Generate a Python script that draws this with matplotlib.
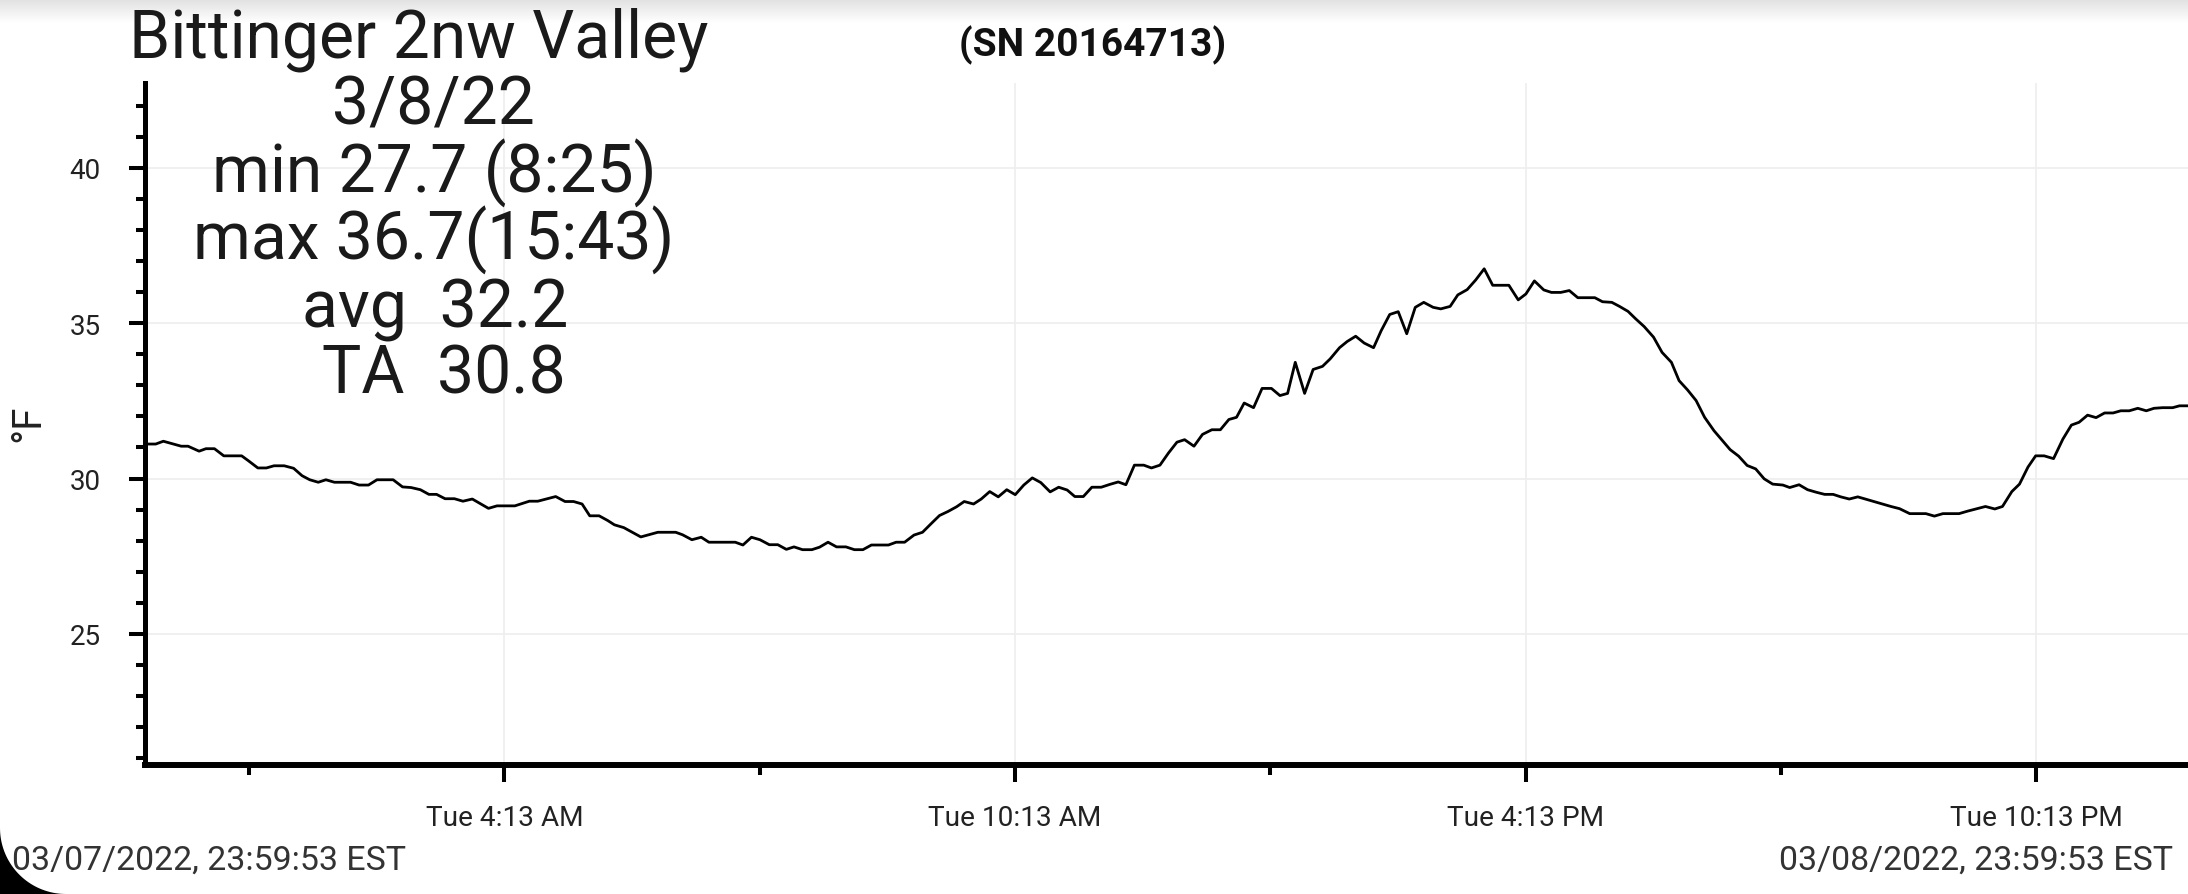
import numpy as np
import matplotlib
matplotlib.use("Agg")
import matplotlib.pyplot as plt
from matplotlib.patches import Polygon

plt.rcParams["font.family"] = ["Roboto", "DejaVu Sans"]

# hours after midnight, 3/8/22
hours = [0.00, 0.12, 0.21, 0.42, 0.50, 0.63, 0.71, 0.81, 0.92, 1.13, 1.21, 1.32, 1.42, 1.51,
         1.63, 1.74, 1.84, 1.93, 2.03, 2.12, 2.22, 2.41, 2.51, 2.62, 2.72, 2.91, 3.02, 3.12,
         3.23, 3.33, 3.42, 3.52, 3.63, 3.73, 3.84, 4.03, 4.13, 4.34, 4.51, 4.61, 4.82, 4.93,
         5.03, 5.13, 5.22, 5.33, 5.43, 5.51, 5.62, 5.72, 5.82, 6.02, 6.23, 6.31, 6.42, 6.53,
         6.62, 6.93, 7.02, 7.12, 7.22, 7.33, 7.43, 7.53, 7.62, 7.72, 7.83, 7.92, 8.02, 8.12,
         8.23, 8.33, 8.43, 8.53, 8.73, 8.82, 8.92, 9.03, 9.13, 9.24, 9.33, 9.43, 9.53, 9.62,
         9.73, 9.82, 9.92, 10.02, 10.12, 10.22, 10.32, 10.42, 10.52, 10.63, 10.73, 10.83,
         10.92, 11.02, 11.12, 11.23, 11.33, 11.43, 11.52, 11.62, 11.73, 11.82, 11.92, 12.02,
         12.12, 12.21, 12.32, 12.42, 12.53, 12.63, 12.73, 12.82, 12.91, 13.02, 13.12, 13.23,
         13.33, 13.42, 13.51, 13.62, 13.72, 13.83, 13.92, 14.03, 14.12, 14.22, 14.32, 14.43,
         14.52, 14.62, 14.72, 14.82, 14.92, 15.02, 15.13, 15.22, 15.33, 15.42, 15.53, 15.63,
         15.73, 15.83, 16.02, 16.13, 16.22, 16.32, 16.43, 16.52, 16.63, 16.73, 16.83, 17.03,
         17.12, 17.23, 17.32, 17.42, 17.51, 17.61, 17.72, 17.82, 17.93, 18.02, 18.12, 18.22,
         18.32, 18.43, 18.52, 18.62, 18.72, 18.82, 18.92, 19.02, 19.12, 19.24, 19.32, 19.43,
         19.53, 19.63, 19.73, 19.83, 19.92, 20.02, 20.12, 20.22, 20.32, 20.41, 20.51, 20.61,
         20.73, 20.92, 21.02, 21.12, 21.31, 21.41, 21.52, 21.62, 21.73, 21.82, 21.93, 22.02,
         22.12, 22.21, 22.31, 22.42, 22.53, 22.63, 22.72, 22.82, 22.92, 23.02, 23.12, 23.21,
         23.31, 23.41, 23.51, 23.60, 23.70, 23.82, 23.90, 24.00]
temps = [31.11, 31.11, 31.20, 31.04, 31.04, 30.88, 30.96, 30.96, 30.73, 30.73, 30.57, 30.34, 30.34, 30.41,
         30.41, 30.33, 30.09, 29.96, 29.88, 29.96, 29.88, 29.88, 29.79, 29.79, 29.96, 29.96, 29.73, 29.71,
         29.64, 29.49, 29.49, 29.35, 29.35, 29.27, 29.34, 29.04, 29.12, 29.12, 29.27, 29.27, 29.42, 29.26,
         29.26, 29.18, 28.80, 28.80, 28.65, 28.51, 28.42, 28.27, 28.12, 28.27, 28.27, 28.19, 28.03, 28.11,
         27.95, 27.95, 27.86, 28.11, 28.03, 27.87, 27.87, 27.72, 27.80, 27.71, 27.71, 27.79, 27.95, 27.80,
         27.80, 27.71, 27.71, 27.86, 27.86, 27.95, 27.95, 28.18, 28.27, 28.57, 28.81, 28.94, 29.09, 29.26,
         29.18, 29.34, 29.58, 29.41, 29.64, 29.48, 29.79, 30.02, 29.87, 29.57, 29.72, 29.63,
         29.42, 29.42, 29.72, 29.72, 29.81, 29.89, 29.80, 30.43, 30.43, 30.34, 30.43, 30.82,
         31.17, 31.25, 31.04, 31.42, 31.57, 31.57, 31.90, 31.97, 32.43, 32.28, 32.90, 32.90,
         32.67, 32.74, 33.74, 32.74, 33.51, 33.61, 33.85, 34.21, 34.41, 34.58, 34.36, 34.21,
         34.76, 35.28, 35.37, 34.66, 35.51, 35.67, 35.51, 35.46, 35.54, 35.91, 36.08, 36.39,
         36.75, 36.22, 36.22, 35.75, 35.94, 36.36, 36.07, 35.99, 35.99, 36.05, 35.82, 35.82,
         35.69, 35.67, 35.54, 35.38, 35.14, 34.89, 34.55, 34.06, 33.74, 33.15, 32.85, 32.51,
         31.97, 31.54, 31.25, 30.93, 30.72, 30.42, 30.31, 29.99, 29.82, 29.79, 29.71, 29.80,
         29.64, 29.56, 29.49, 29.49, 29.41, 29.34, 29.41, 29.33, 29.25, 29.18, 29.10, 29.03,
         28.87, 28.87, 28.79, 28.87, 28.87, 28.95, 29.03, 29.10, 29.02, 29.10, 29.58, 29.82,
         30.37, 30.73, 30.73, 30.64, 31.27, 31.72, 31.81, 32.04, 31.96, 32.11, 32.11, 32.18,
         32.18, 32.26, 32.18, 32.26, 32.28, 32.28, 32.34, 32.34]

major_x = [4.217, 10.217, 16.217, 22.217]
major_labels = ["Tue 4:13 AM", "Tue 10:13 AM", "Tue 4:13 PM", "Tue 10:13 PM"]
minor_x = [1.217, 7.217, 13.217, 19.217]
y_major = [25, 30, 35, 40]

title = "Bittinger 2nw Valley"
serial = "(SN 20164713)"
stats = ["3/8/22", "min 27.7 (8:25)", "max 36.7(15:43)", "avg  32.2", "TA  30.8"]
start_txt = "03/07/2022, 23:59:53 EST"
end_txt = "03/08/2022, 23:59:53 EST"

W, H = 2188, 895
fig = plt.figure(figsize=(W / 100, H / 100), dpi=100)
fig.patch.set_facecolor("white")

# grey shadow at the top of the screenshot
top = fig.add_axes([0, 1 - 24 / H, 1, 24 / H], zorder=0)
grad = np.linspace(0.88, 1.0, 50).reshape(-1, 1)
top.imshow(grad, aspect="auto", cmap="gray", vmin=0, vmax=1, extent=[0, 1, 0, 1])
top.axis("off")

left = 145.5 / W
bottom = (H - 766.3) / H
ax = fig.add_axes([left, bottom, 1 - left, (766.3 - 84) / H], zorder=1)
ax.patch.set_alpha(0)
ax.plot(hours, temps, color="black", lw=2.0, zorder=3)

ax.set_xlim(0, 24.0)
ax.set_ylim(20.77, 42.73)
ax.set_xticks(major_x)
ax.set_xticklabels(major_labels)
ax.set_xticks(minor_x, minor=True)
ax.set_yticks(y_major)
ax.set_yticks(np.arange(21, 43), minor=True)

ax.grid(True, which="major", color="#eeeeee", lw=1.2)
ax.set_axisbelow(True)
for s in ["top", "right"]:
    ax.spines[s].set_visible(False)
ax.spines["left"].set_linewidth(3.6)
ax.spines["bottom"].set_linewidth(4.3)

ax.tick_params(axis="y", which="major", length=11.7, width=2.9, pad=20.5, labelsize=20, labelcolor="#222222")
ax.tick_params(axis="y", which="minor", length=6.8, width=2.9)
ax.tick_params(axis="x", which="major", length=12.2, width=2.9, pad=16, labelsize=20.2, labelcolor="#222222")
ax.tick_params(axis="x", which="minor", length=7, width=2.9)

fig.text(28 / W, 1 - 423.5 / H, "°F", rotation=90, ha="center", va="center", fontsize=29, color="#222222")

fig.text(129 / W, 1 - 57 / H, title, ha="left", va="baseline", fontsize=47.5, color="#1a1a1a")
fig.text(1093 / W, 1 - 56 / H, serial, ha="center", va="baseline", fontsize=28, fontweight="bold", color="#111111")

stat_x = [433, 434.5, 434, 435, 443.5]
stat_y = [125, 193, 260, 327, 393]
for s, sx, sy in zip(stats, stat_x, stat_y):
    fig.text(sx / W, 1 - sy / H, s, ha="center", va="baseline", fontsize=47.5, color="#1a1a1a")

fig.text(11.5 / W, 1 - 870 / H, start_txt, ha="left", va="baseline", fontsize=24.4, color="#333333")
fig.text(2173 / W, 1 - 870 / H, end_txt, ha="right", va="baseline", fontsize=24.4, color="#333333")

# rounded black screen corner, bottom left
r = 66
t = np.linspace(0, np.pi / 2, 40)
corner_pts = [(0, 0), (0, r)] + [(r - r * np.cos(a), r - r * np.sin(a)) for a in t] + [(r, 0)]
corner = Polygon([(px / W, py / H) for px, py in corner_pts],
                 closed=True, transform=fig.transFigure, facecolor="black", edgecolor="none", zorder=5)
fig.patches.append(corner)

fig.savefig("out.png", dpi=100, facecolor="white")
